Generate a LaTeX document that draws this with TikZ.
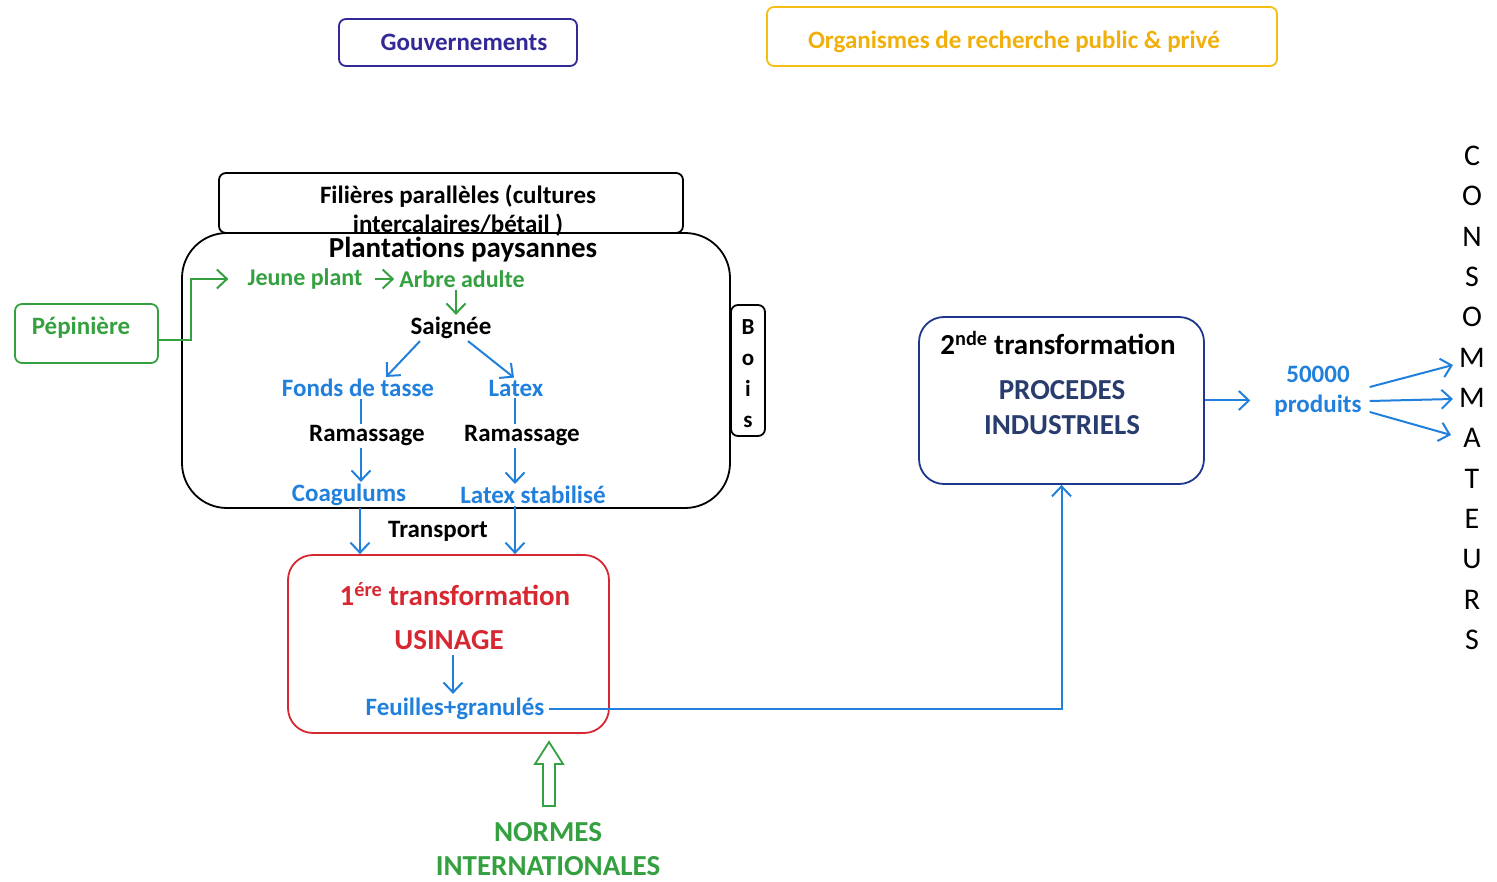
\documentclass[tikz,border=0pt]{standalone}
\usepackage{fontspec}
\setmainfont{Carlito}
\usetikzlibrary{arrows.meta}
\definecolor{cgreen}{RGB}{52,160,64}
\definecolor{cblue}{RGB}{32,128,220}
\definecolor{cnavy}{RGB}{50,40,150}
\definecolor{cgold}{RGB}{245,190,20}
\definecolor{cgoldtxt}{RGB}{240,175,10}
\definecolor{cred}{RGB}{215,40,50}
\definecolor{cdblue}{RGB}{30,55,140}
\definecolor{cproc}{RGB}{40,60,110}
\tikzset{
  box/.style={draw, line width=1.8pt, rounded corners=7pt, inner sep=0pt},
  txt/.style={font=\fontsize{25}{29}\selectfont\bfseries, inner sep=2pt, align=center},
  big/.style={font=\fontsize{29}{35}\selectfont\bfseries},
  barrow/.style={draw=cblue, line width=2pt, -{Straight Barb[length=10pt,width=19pt,line width=2pt]}},
  bline/.style={draw=cblue, line width=2pt},
  garrow/.style={draw=cgreen, line width=2pt, -{Straight Barb[length=10pt,width=19pt,line width=2pt]}},
}
\begin{document}
\begin{tikzpicture}[x=1pt,y=-1pt]
\useasboundingbox (0,0) rectangle (1497,882);
% top boxes
\node[box, draw=cnavy, minimum width=238pt, minimum height=47pt] (gouv) at (458,42.5) {};
\node[txt, text=cnavy] (gouvt) at (464,42) {Gouvernements};
\node[box, draw=cgold, minimum width=510pt, minimum height=59pt] (org) at (1022,36.5) {};
\node[txt, text=cgoldtxt] (orgt) at (1014,42) {Organismes de recherche public \& privé};
% filieres
\node[box, minimum width=464pt, minimum height=60pt] (fil) at (451,203) {};
\node[txt] (filt) at (458,211) {Filières parallèles (cultures\\intercalaires/bétail )};
% plantations
\node[box, rounded corners=45pt, minimum width=548pt, minimum height=275pt] (plant) at (456,370.5) {};
\node[txt, font=\fontsize{29}{33}\selectfont\bfseries] (plantt) at (463,250) {Plantations paysannes};
% bois
\node[box, minimum width=34pt, minimum height=131pt] (bois) at (748,370.5) {};
\node[txt, font=\fontsize{23}{31}\selectfont\bfseries] (boist) at (748,374) {B\\o\\i\\s};
% pepiniere
\node[box, draw=cgreen, minimum width=143pt, minimum height=59pt] (pep) at (86.5,333.5) {};
\node[txt, text=cgreen] (pept) at (81,328) {Pépinière};
% inner texts
\node[txt, text=cgreen, font=\fontsize{24}{28}\selectfont\bfseries] (jeune) at (305,279) {Jeune plant};
\node[txt, text=cgreen, font=\fontsize{24}{28}\selectfont\bfseries] (arbre) at (462,279) {Arbre adulte};
\node[txt] (saignee) at (451,328) {Saignée};
\node[txt, text=cblue] (fonds) at (358,388) {Fonds de tasse};
\node[txt, text=cblue] (latex) at (516,388) {Latex};
\node[txt] (ram1) at (367,436) {Ramassage};
\node[txt] (ram2) at (522,436) {Ramassage};
\node[txt, text=cblue] (coag) at (349,495) {Coagulums};
\node[txt, text=cblue] (lstab) at (533,495) {Latex stabilisé};
\node[txt] (transp) at (438,531) {Transport};
% green connectors
\draw[garrow] ([yshift=-6.5pt]pep.east) -| ([xshift=-54pt]jeune.west) -- ([xshift=-17pt]jeune.west);
\draw[garrow, shorten <=10pt, shorten >=3pt] (jeune.east) -- (arbre.west);
\draw[garrow] ([xshift=-6pt]arbre.south) -- ([xshift=-6pt]arbre.south |- saignee.north);
% blue connectors
\draw[barrow] ([xshift=-31pt]saignee.south) -- ([xshift=28pt]fonds.north);
\draw[barrow] ([xshift=17pt]saignee.south) -- ([xshift=-2pt]latex.north);
\draw[bline] ([xshift=3pt]fonds.south) -- ([xshift=3pt]fonds.south |- ram1.north);
\draw[bline] ([xshift=-1pt]latex.south) -- ([xshift=-1pt]latex.south |- ram2.north);
\draw[barrow] ([xshift=-6pt]ram1.south) -- ([xshift=-6pt]ram1.south |- coag.north);
\draw[barrow] ([xshift=-7pt]ram2.south) -- ([xshift=-7pt]ram2.south |- lstab.north);
% usine
\node[box, draw=cred, rounded corners=25pt, minimum width=321pt, minimum height=178pt] (usine) at (448.5,644) {};
\node[txt, text=cred, big] (t1) at (455,594) {1\textsuperscript{ére} transformation};
\node[txt, text=cred, big] (usinage) at (449,640) {USINAGE};
\node[txt, text=cblue] (feuil) at (455,709) {Feuilles+granulés};
\draw[barrow, shorten <=3pt, shorten >=2pt] ([xshift=4pt]usinage.south) -- ([xshift=4pt]usinage.south |- feuil.north);
\draw[barrow] ([xshift=11pt]coag.south) -- ([xshift=11pt]coag.south |- usine.north);
\draw[barrow] ([xshift=-18pt]lstab.south) -- ([xshift=-18pt]lstab.south |- usine.north);
% seconde
\node[box, draw=cdblue, rounded corners=25pt, minimum width=285pt, minimum height=167pt] (sec) at (1061.5,400.5) {};
\node[txt, big] (t2) at (1058,343) {2\textsuperscript{nde} transformation};
\node[txt, text=cproc, font=\fontsize{29}{35}\selectfont\bfseries] (proc) at (1062,408) {PROCEDES\\INDUSTRIELS};
\draw[barrow, shorten <=2pt] (feuil.east) -| (sec.south);
% produits
\node[txt, text=cblue, font=\fontsize{25}{30}\selectfont\bfseries] (prod) at (1318,391) {50000\\produits};
\draw[barrow, shorten >=22pt] (sec.east) -- (sec.east -| prod.west);
\node[inner sep=2pt, align=center, font=\fontsize{30}{40.33}\selectfont] (cons) at (1472,398) {C\\O\\N\\S\\O\\M\\M\\A\\T\\E\\U\\R\\S};
\draw[barrow] ([xshift=6pt,yshift=4pt]prod.east) -- ([xshift=-4pt,yshift=33pt]cons.west);
\draw[barrow] ([xshift=6pt,yshift=-10pt]prod.east) -- ([xshift=-4pt,yshift=-1pt]cons.west);
\draw[barrow] ([xshift=6pt,yshift=-21pt]prod.east) -- ([xshift=-6pt,yshift=-37pt]cons.west);
% normes
\node[txt, text=cgreen, font=\fontsize{29}{34}\selectfont\bfseries] (normes) at (548,849) {NORMES\\INTERNATIONALES};
\draw[draw=cgreen, line width=1.8pt, line join=miter] (543,806) -- (543,764) -- (535,764) -- (549,742) -- (563,764) -- (555,764) -- (555,806) -- cycle;
\end{tikzpicture}
\end{document}
